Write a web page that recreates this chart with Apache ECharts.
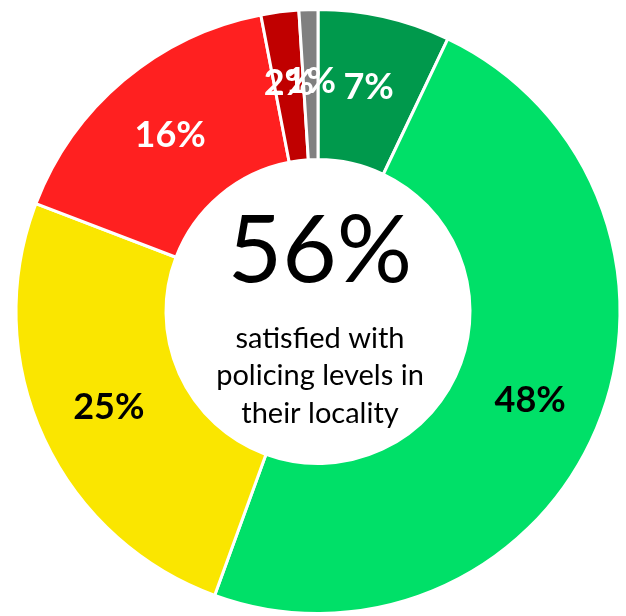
<!DOCTYPE html>
<html>
<head>
<meta charset="utf-8">
<script src="https://cdn.jsdelivr.net/npm/echarts@6/dist/echarts.min.js"></script>
<style>html,body{margin:0;padding:0;background:#fff;}#c{width:626px;height:616px;}</style>
</head>
<body>
<div id="c"></div>
<script>
const categories = ['Very satisfied', 'Fairly satisfied', 'Neither', 'Fairly dissatisfied', 'Very dissatisfied', "Don't know"];
const values = [7, 48, 25, 16, 2, 1];
const colors = ['#00994C', '#00E068', '#FAE600', '#FF2020', '#C00000', '#808080'];
const labelColors = ['#ffffff', '#000000', '#000000', '#ffffff', '#ffffff', '#ffffff'];
const headline = '56%';
const subtitle = ['satisfied with', 'policing levels in', 'their locality'];

const chart = echarts.init(document.getElementById('c'), null, {renderer: 'canvas'});
chart.setOption({
  animation: false,
  backgroundColor: '#ffffff',
  series: [{
    type: 'pie',
    center: [318, 311.5],
    radius: [152, 302],
    startAngle: 90,
    clockwise: true,
    avoidLabelOverlap: false,
    minShowLabelAngle: 0,
    labelLayout: {hideOverlap: false, moveOverlap: null},
    label: {
      show: true,
      position: 'inside',
      formatter: '{c}%',
      fontFamily: 'Lato',
      fontWeight: 'bold',
      fontSize: 36,
      overflow: 'none'
    },
    labelLine: {show: false},
    emphasis: {disabled: true},
    itemStyle: {borderColor: '#ffffff', borderWidth: 3},
    data: categories.map((n, i) => ({
      name: n,
      value: values[i],
      itemStyle: {color: colors[i]},
      label: {color: labelColors[i]}
    }))
  }],
  graphic: [
    {type: 'text', style: {x: 320, y: 252, text: headline, textAlign: 'center', textVerticalAlign: 'middle', font: '94px Lato', fill: '#000'}},
    {type: 'text', style: {x: 320, y: 376, text: subtitle.join('\n'), textAlign: 'center', textVerticalAlign: 'middle', font: '29px Lato', lineHeight: 37.5, fill: '#000'}}
  ]
});
</script>
</body>
</html>
